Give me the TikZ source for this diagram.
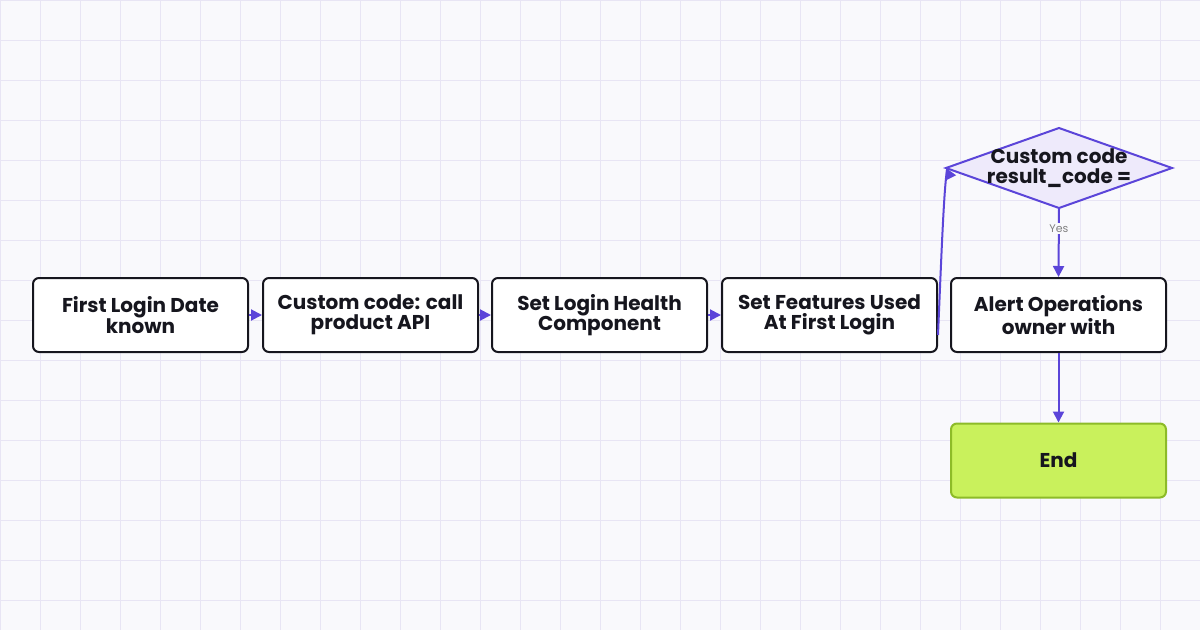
\documentclass[tikz,border=0pt]{standalone}
\usepackage{fontspec}
\setmainfont{Poppins}
\usetikzlibrary{arrows.meta}
\definecolor{bg}{HTML}{F9F9FC}
\definecolor{gridc}{HTML}{E8E5F4}
\definecolor{edge}{HTML}{5B45D9}
\definecolor{ink}{HTML}{16161E}
\definecolor{dfill}{HTML}{EEEAFB}
\definecolor{endf}{HTML}{C9F15C}
\definecolor{endd}{HTML}{8DBB28}
\tikzset{
 lbl/.style={align=center,font=\bfseries\fontsize{20}{20}\selectfont,text=ink,inner sep=0pt},
 box/.style={lbl,draw=ink,line width=2pt,rounded corners=6pt,fill=white,minimum width=215pt,minimum height=74pt},
 endbox/.style={box,draw=endd,fill=endf},
 dshape/.style={draw=edge,line width=2pt,fill=dfill,line join=miter},
 arr/.style={draw=edge,line width=2pt,-{Triangle[length=11pt,width=11pt]}},
}
\begin{document}
\begin{tikzpicture}[x=1pt,y=-1pt]
\fill[bg] (0,0) rectangle (1200,630);
\useasboundingbox (0,0) rectangle (1200,630);
\foreach \i in {0,40,...,1200} \draw[gridc,line width=1pt] (\i,0) -- (\i,630);
\foreach \j in {0,40,...,630} \draw[gridc,line width=1pt] (0,\j) -- (1200,\j);
\node[box] (b1) at (140.5,315) {First Login Date\\known};
\node[box] (b2) at (370.5,315) {Custom code: call\\product API};
\node[box] (b3) at (599.5,315) {Set Login Health\\Component};
\node[box] (b4) at (829.5,315) {Set Features Used\\At First Login};
\node[box] (b5) at (1058.5,315) {Alert Operations\\owner with};
\node[endbox] (e) at (1058.5,460.5) {End};
\coordinate (dW) at (946,168);
\coordinate (dN) at (1059,128);
\coordinate (dE) at (1172,168);
\coordinate (dS) at (1059,208);
\draw[dshape] (dW) -- (dN) -- (dE) -- (dS) -- cycle;
\node[lbl] (d) at (1059,168) {Custom code\\result\_code =};
\draw[arr] ([yshift=-20pt]b4.east) .. controls (942,240) and (944,190) .. (947,170) -- (dW);
\draw[arr] (dS) -- node[pos=0.3,fill=bg,inner sep=1.5pt,font=\fontsize{11}{12}\selectfont,text=gray] {Yes} (b5.north);
\draw[arr] (b5) -- (e);
\draw[arr] (b1) -- (b2);
\draw[arr] (b2) -- (b3);
\draw[arr] (b3) -- (b4);
\end{tikzpicture}
\end{document}
